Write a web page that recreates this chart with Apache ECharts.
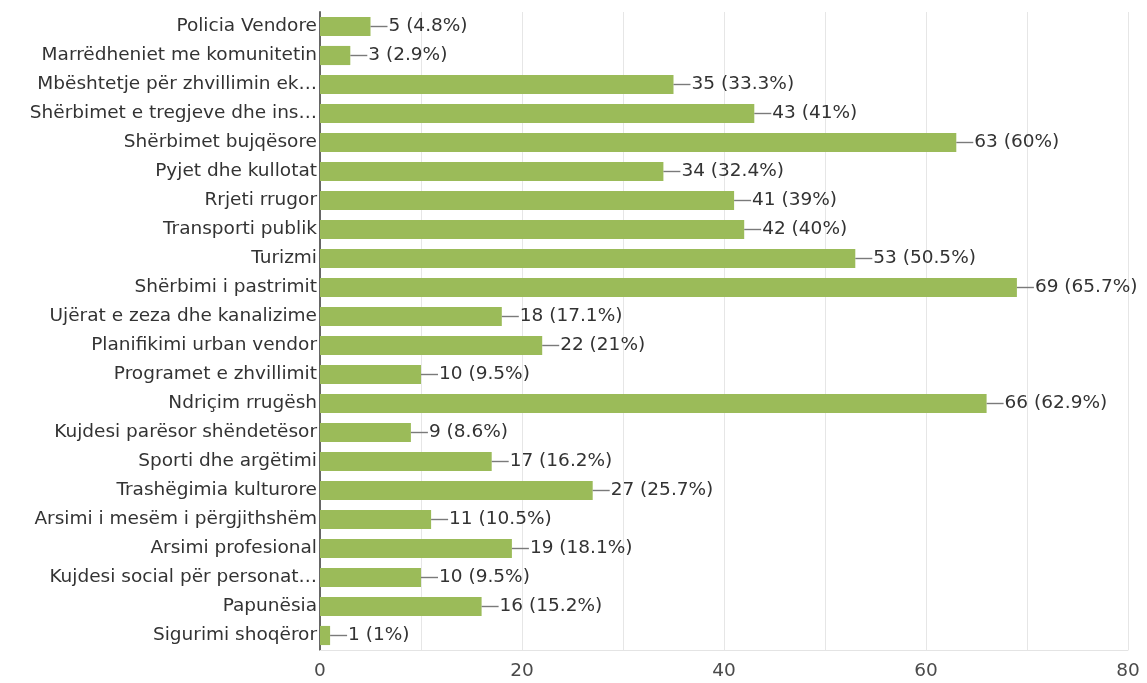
<!DOCTYPE html>
<html><head><meta charset="utf-8">
<script src="https://cdn.jsdelivr.net/npm/echarts@6/dist/echarts.min.js"></script>
<style>html,body{margin:0;padding:0;background:#fff}#c{width:1147px;height:683px}</style>
</head><body><div id="c"></div>
<script>
const categories = ["Policia Vendore","Marrëdheniet me komunitetin","Mbështetje për zhvillimin ek…","Shërbimet e tregjeve dhe ins…","Shërbimet bujqësore","Pyjet dhe kullotat","Rrjeti rrugor","Transporti publik","Turizmi","Shërbimi i pastrimit","Ujërat e zeza dhe kanalizime","Planifikimi urban vendor","Programet e zhvillimit","Ndriçim rrugësh","Kujdesi parësor shëndetësor","Sporti dhe argëtimi","Trashëgimia kulturore","Arsimi i mesëm i përgjithshëm","Arsimi profesional","Kujdesi social për personat…","Papunësia","Sigurimi shoqëror"];
const values = [5,3,35,43,63,34,41,42,53,69,18,22,10,66,9,17,27,11,19,10,16,1];
const percents = ["4.8%","2.9%","33.3%","41%","60%","32.4%","39%","40%","50.5%","65.7%","17.1%","21%","9.5%","62.9%","8.6%","16.2%","25.7%","10.5%","18.1%","9.5%","15.2%","1%"];
const xTicks = [0,20,40,60,80];

const FONT = 'DejaVu Sans, Verdana, sans-serif';
const chart = echarts.init(document.getElementById('c'));
chart.setOption({
  animation:false,
  grid:{left:320,right:19,top:12,bottom:33,containLabel:false},
  xAxis:{type:'value',min:0,max:80,interval:10,
    axisLine:{show:true,lineStyle:{color:'#e4e4e4',width:1}},axisTick:{show:false},
    splitLine:{show:true,lineStyle:{color:'#e6e6e6',width:1}},
    axisLabel:{margin:12,fontSize:18.5,color:'#4a4a4a',fontFamily:FONT,
      formatter:v=>xTicks.includes(v)?String(v):''}
  },
  yAxis:{type:'category',inverse:true,data:categories,
    axisLine:{show:true,lineStyle:{color:'#666',width:2}},axisTick:{show:false},
    splitLine:{show:false},
    axisLabel:{margin:3,fontSize:18.5,color:'#333',fontFamily:FONT}
  },
  series:[{type:'bar',data:values,barCategoryGap:'34%',
    itemStyle:{color:'#9bbb59'},
    label:{show:true,position:'right',distance:0,
      formatter:p=>'{l| }{t|'+p.value+' ('+percents[p.dataIndex]+')}',
      rich:{l:{width:17,height:1.4,backgroundColor:'#7a7a7a'},
        t:{fontSize:18.5,color:'#333',fontFamily:FONT,padding:[0,0,0,1]}}
    }
  }]
});
</script></body></html>
